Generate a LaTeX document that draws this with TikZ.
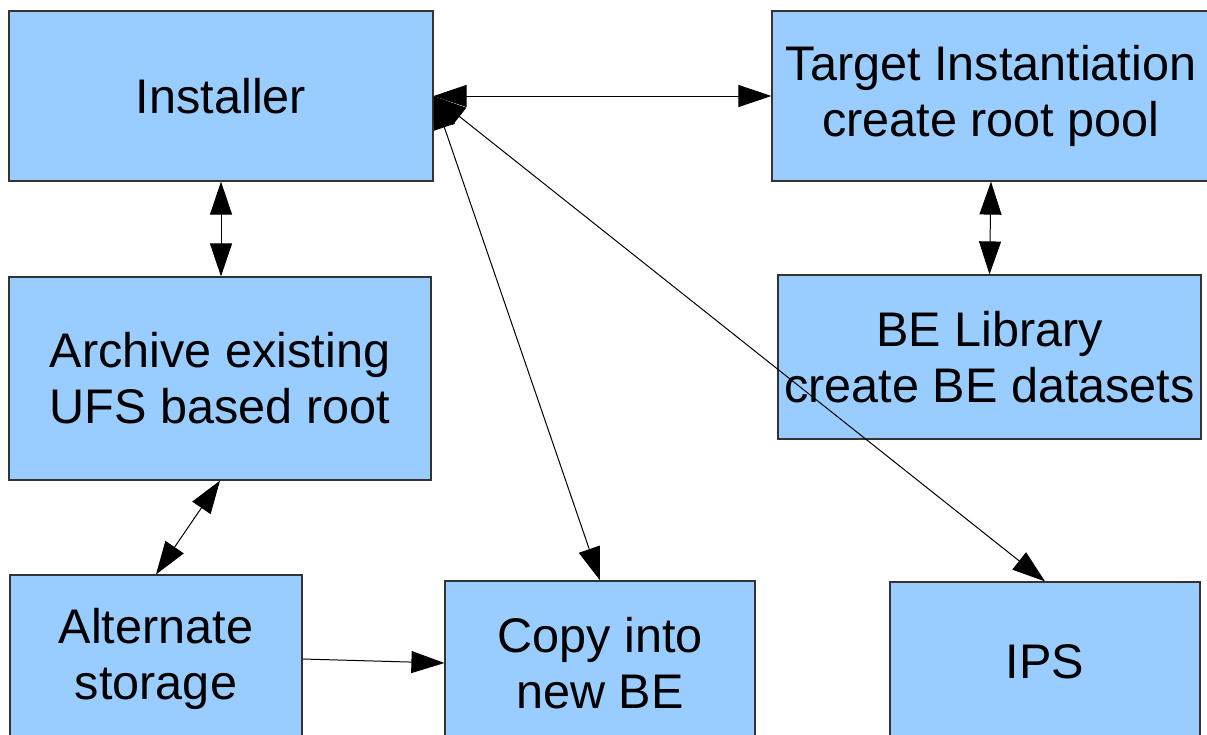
\documentclass[tikz,border=0pt]{standalone}
\usepackage{fontspec}
\setmainfont{Liberation Sans}
\usetikzlibrary{arrows.meta}
\definecolor{boxblue}{HTML}{99CCFF}
\definecolor{boxline}{HTML}{333333}
\begin{document}
\begin{tikzpicture}[x=1pt,y=-1pt,
  box/.style={draw=boxline,fill=boxblue,line width=1.2pt,inner sep=0pt,align=center,
    font=\fontsize{48.6}{56}\selectfont},
  >={Triangle[length=33pt,width=22pt]},
  link/.style={<->,line width=1pt},
  onelink/.style={->,line width=1pt}]
\useasboundingbox (0,0) rectangle (1207,734);
\clip (0,0) rectangle (1207,734);
\node[box,minimum width=424pt,minimum height=170pt] (inst) at (221,96) {Installer};
\node[box,minimum width=438pt,minimum height=170pt] (targ) at (991,96) {Target Instantiation\\create root pool};
\node[box,minimum width=422pt,minimum height=203pt] (arch) at (220,378.5) {Archive existing\\UFS based root};
\node[box,minimum width=423pt,minimum height=164pt] (bel) at (989.5,357) {BE Library\\create BE datasets};
\node[box,minimum width=292pt,minimum height=168pt] (alt) at (156,659) {Alternate\\storage};
\node[box,minimum width=310pt,minimum height=164pt] (copy) at (600,663) {Copy into\\new BE};
\node[box,minimum width=310pt,minimum height=160pt] (ips) at (1045,662) {IPS};
\draw[link] (inst.east) -- (targ.west);
\draw[link] (inst.east) -- (copy.north);
\draw[link] (inst.east) -- (ips.north);
\draw[link] (inst.south) -- (inst.south |- arch.north);
\draw[link] (arch.south) -- (alt.north);
\draw[link] (targ.south) -- (bel.north);
\draw[onelink] (alt.east) -- (copy.west);
\end{tikzpicture}
\end{document}
